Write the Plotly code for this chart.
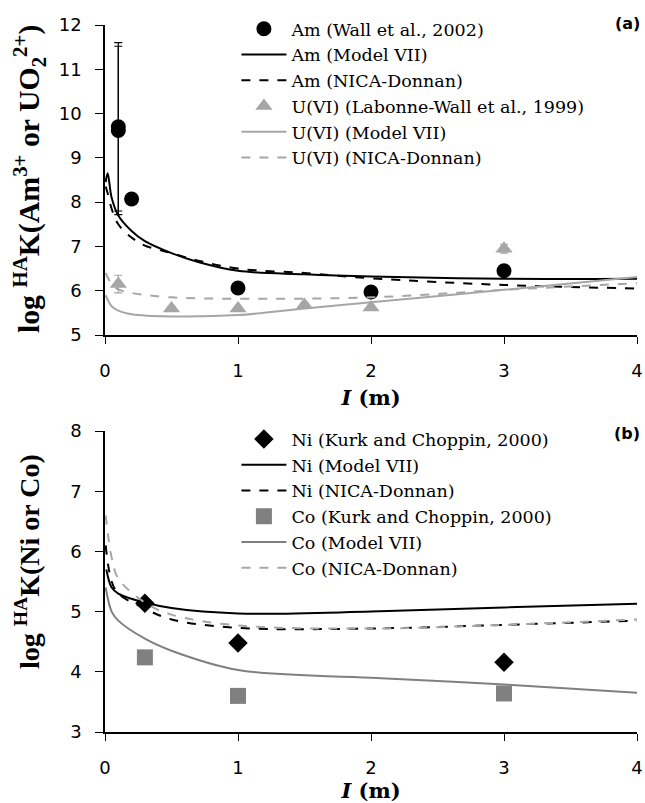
import plotly.graph_objects as go

# ---------------- Panel (a) data ----------------
am_exp_x = [0.1, 0.1, 0.2, 1, 2, 3]
am_exp_y = [9.70, 9.62, 8.07, 6.06, 5.97, 6.45]
am_exp_err = [1.9, 1.9, 0.0, 0.1, 0.05, 0.12]

am_m7_x = [0.005, 0.02, 0.05, 0.1, 0.2, 0.3, 0.5, 0.7, 1, 1.5, 2, 3, 4]
am_m7_y = [8.45, 8.65, 8.1, 7.7, 7.35, 7.12, 6.85, 6.65, 6.45, 6.37, 6.32, 6.27, 6.27]

am_nd_x = [0.005, 0.02, 0.05, 0.1, 0.2, 0.3, 0.5, 0.7, 1, 1.5, 2, 3, 4]
am_nd_y = [8.35, 8.2, 7.85, 7.5, 7.2, 7.02, 6.85, 6.68, 6.5, 6.4, 6.28, 6.13, 6.05]

u_exp_x = [0.1, 0.5, 1, 1.5, 2, 3]
u_exp_y = [6.15, 5.6, 5.6, 5.68, 5.62, 6.95]
u_exp_err = [0.2, 0.05, 0.05, 0.05, 0.05, 0.1]

u_m7_x = [0.005, 0.05, 0.1, 0.2, 0.5, 1, 1.5, 2, 3, 4]
u_m7_y = [5.9, 5.65, 5.55, 5.47, 5.42, 5.45, 5.6, 5.74, 6.02, 6.31]

u_nd_x = [0.005, 0.05, 0.1, 0.2, 0.5, 1, 2, 3, 4]
u_nd_y = [6.4, 6.15, 6.03, 5.95, 5.85, 5.82, 5.85, 6.02, 6.17]

# ---------------- Panel (b) data ----------------
ni_exp_x = [0.3, 1, 3]
ni_exp_y = [5.14, 4.48, 4.16]
ni_m7_x = [0.01, 0.05, 0.1, 0.3, 0.5, 1, 2, 3, 4]
ni_m7_y = [5.7, 5.4, 5.3, 5.15, 5.06, 4.97, 5.0, 5.07, 5.13]
ni_nd_x = [0.005, 0.05, 0.1, 0.3, 0.5, 1, 2, 3, 4]
ni_nd_y = [6.1, 5.5, 5.3, 5.05, 4.87, 4.73, 4.72, 4.78, 4.85]

co_exp_x = [0.3, 1, 3]
co_exp_y = [4.24, 3.6, 3.64]
co_m7_x = [0.005, 0.05, 0.1, 0.3, 0.5, 1, 2, 3, 4]
co_m7_y = [5.4, 5.0, 4.85, 4.55, 4.35, 4.03, 3.9, 3.79, 3.65]
co_nd_x = [0.005, 0.05, 0.1, 0.3, 0.5, 1, 2, 3, 4]
co_nd_y = [6.6, 5.9, 5.55, 5.15, 4.95, 4.77, 4.72, 4.78, 4.87]

x_ticks = [0, 1, 2, 3, 4]

BLACK = "#000000"
GRAY = "#a6a6a6"
DGRAY = "#808080"
SERIF = "Liberation Serif"
WSERIF = "DejaVu Serif"
SANS = "DejaVu Sans"

fig = go.Figure()

# Panel (a)
fig.add_trace(go.Scatter(x=am_exp_x, y=am_exp_y, mode="markers", name="Am (Wall et al., 2002)",
                         marker=dict(symbol="circle", size=15, color=BLACK),
                         error_y=dict(type="data", array=am_exp_err, color=BLACK, thickness=1.2, width=4),
                         xaxis="x", yaxis="y", legend="legend"))
fig.add_trace(go.Scatter(x=am_m7_x, y=am_m7_y, mode="lines", name="Am (Model VII)",
                         line=dict(color=BLACK, width=2, shape="spline"), xaxis="x", yaxis="y", legend="legend"))
fig.add_trace(go.Scatter(x=am_nd_x, y=am_nd_y, mode="lines", name="Am (NICA-Donnan)",
                         line=dict(color=BLACK, width=2, dash="dash", shape="spline"), xaxis="x", yaxis="y", legend="legend"))
fig.add_trace(go.Scatter(x=u_exp_x, y=u_exp_y, mode="markers", name="U(VI) (Labonne-Wall et al., 1999)",
                         marker=dict(symbol="triangle-up", size=15, color=GRAY),
                         error_y=dict(type="data", array=u_exp_err, color=GRAY, thickness=1.2, width=4),
                         xaxis="x", yaxis="y", legend="legend"))
fig.add_trace(go.Scatter(x=u_m7_x, y=u_m7_y, mode="lines", name="U(VI) (Model VII)",
                         line=dict(color=GRAY, width=2, shape="spline"), xaxis="x", yaxis="y", legend="legend"))
fig.add_trace(go.Scatter(x=u_nd_x, y=u_nd_y, mode="lines", name="U(VI) (NICA-Donnan)",
                         line=dict(color=GRAY, width=2, dash="dash", shape="spline"), xaxis="x", yaxis="y", legend="legend"))

# Panel (b)
fig.add_trace(go.Scatter(x=ni_exp_x, y=ni_exp_y, mode="markers", name="Ni (Kurk and Choppin, 2000)",
                         marker=dict(symbol="diamond", size=15, color=BLACK), xaxis="x2", yaxis="y2", legend="legend2"))
fig.add_trace(go.Scatter(x=ni_m7_x, y=ni_m7_y, mode="lines", name="Ni (Model VII)",
                         line=dict(color=BLACK, width=2, shape="spline"), xaxis="x2", yaxis="y2", legend="legend2"))
fig.add_trace(go.Scatter(x=ni_nd_x, y=ni_nd_y, mode="lines", name="Ni (NICA-Donnan)",
                         line=dict(color=BLACK, width=2, dash="dash", shape="spline"), xaxis="x2", yaxis="y2", legend="legend2"))
fig.add_trace(go.Scatter(x=co_exp_x, y=co_exp_y, mode="markers", name="Co (Kurk and Choppin, 2000)",
                         marker=dict(symbol="square", size=16, color=DGRAY), xaxis="x2", yaxis="y2", legend="legend2"))
fig.add_trace(go.Scatter(x=co_m7_x, y=co_m7_y, mode="lines", name="Co (Model VII)",
                         line=dict(color=DGRAY, width=2, shape="spline"), xaxis="x2", yaxis="y2", legend="legend2"))
fig.add_trace(go.Scatter(x=co_nd_x, y=co_nd_y, mode="lines", name="Co (NICA-Donnan)",
                         line=dict(color=GRAY, width=2, dash="dash", shape="spline"), xaxis="x2", yaxis="y2", legend="legend2"))

axis_common = dict(showline=True, linecolor=BLACK, linewidth=1.5, ticks="outside",
                   tickcolor=BLACK, showgrid=False, zeroline=False,
                   tickfont=dict(family=SANS, size=18, color=BLACK))

xtitle = dict(text="<b><i>I</i> (m)</b>", font=dict(family=WSERIF, size=21, color=BLACK), standoff=10)

legend_font = dict(family=WSERIF, size=17.5, color=BLACK)

fig.update_layout(
    width=645, height=803,
    margin=dict(l=105, r=8, t=25, b=71),
    paper_bgcolor="white", plot_bgcolor="white",
    showlegend=True,
    xaxis=dict(domain=[0, 1], range=[0, 4], tickvals=x_ticks, anchor="y", title=xtitle,
               ticklen=7, ticklabelstandoff=12, automargin=False, **axis_common),
    yaxis=dict(domain=[0.5615, 1], range=[5, 12], dtick=1, anchor="x", ticklen=8, ticklabelstandoff=10,
               automargin=False, **axis_common),
    xaxis2=dict(domain=[0, 1], range=[0, 4], tickvals=x_ticks, anchor="y2", title=xtitle,
                ticklen=7, ticklabelstandoff=12, automargin=False, **axis_common),
    yaxis2=dict(domain=[0, 0.4257], range=[3, 8], dtick=1, anchor="x2", ticklen=8, ticklabelstandoff=10,
                automargin=False, **axis_common),
    legend=dict(x=0.247, y=1.02, xanchor="left", yanchor="top", bgcolor="rgba(0,0,0,0)",
                font=legend_font, tracegroupgap=0, itemwidth=45),
    legend2=dict(x=0.247, y=0.4397, xanchor="left", yanchor="top", bgcolor="rgba(0,0,0,0)",
                 font=legend_font, tracegroupgap=0, itemwidth=45),
    annotations=[
        # y-axis titles (rotated)
        dict(text="<b>log <sup>HA</sup>K(Am<sup>3+</sup> or UO<sub>2</sub><sup>2+</sup>)</b>",
             x=-0.1429, y=0.782, xref="paper", yref="paper", xanchor="center", yanchor="middle",
             textangle=-90, showarrow=False, font=dict(family=SERIF, size=29.8, color=BLACK)),
        dict(text="<b>log <sup>HA</sup>K(Ni or Co)</b>",
             x=-0.1447, y=0.2405, xref="paper", yref="paper", xanchor="center", yanchor="middle",
             textangle=-90, showarrow=False, font=dict(family=SERIF, size=28, color=BLACK)),
        # panel labels
        dict(text="<b>(a)</b>", x=1.01, y=1.018, xref="paper", yref="paper", xanchor="right", yanchor="top",
             showarrow=False, font=dict(family=SANS, size=16, color=BLACK)),
        dict(text="<b>(b)</b>", x=1.01, y=0.439, xref="paper", yref="paper", xanchor="right", yanchor="top",
             showarrow=False, font=dict(family=SANS, size=16, color=BLACK)),
    ],
)

fig.write_html("out.html", config={"displayModeBar": False},
               post_script="document.body.style.margin='0px';")
